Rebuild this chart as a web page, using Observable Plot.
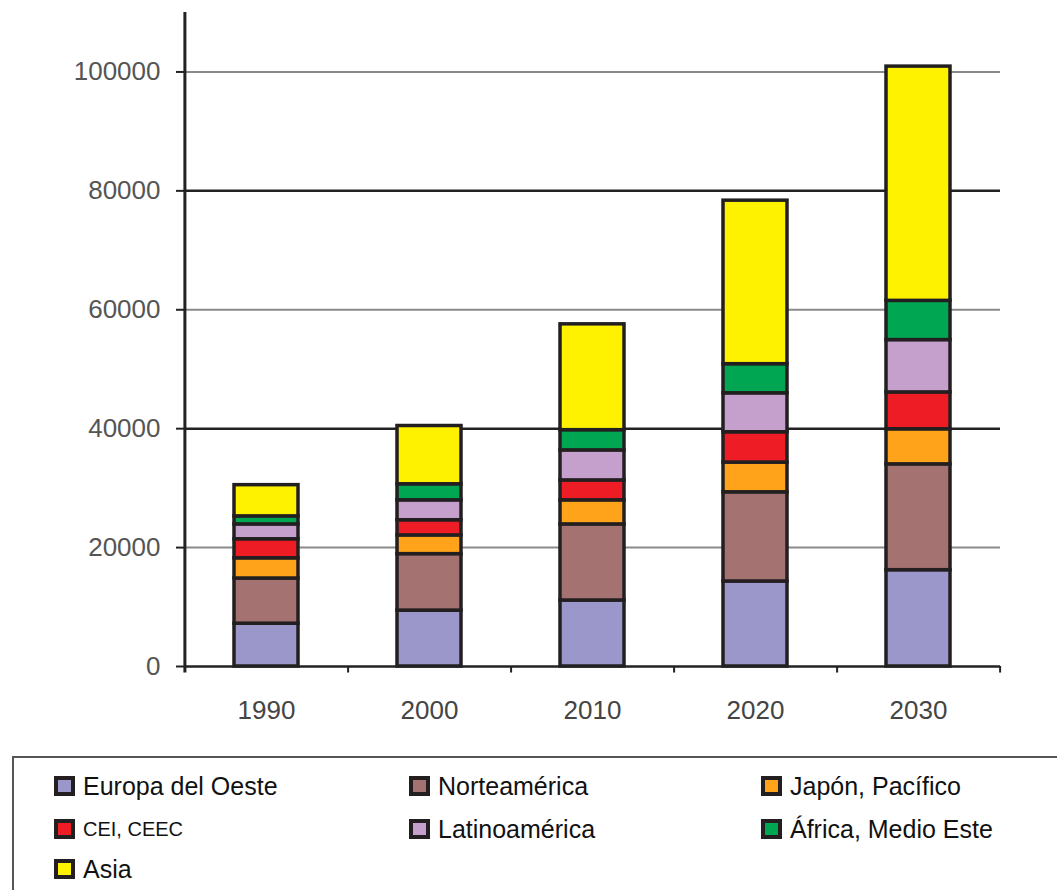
<!DOCTYPE html>
<html>
<head>
<meta charset="utf-8">
<script src="https://cdn.jsdelivr.net/npm/d3@7"></script>
<script src="https://cdn.jsdelivr.net/npm/@observablehq/plot@0.6"></script>
<style>
  html, body { margin: 0; padding: 0; background: #fff; }
  body { width: 1057px; height: 890px; overflow: hidden; font-family: "Liberation Sans", Arial, sans-serif; }
  #chart svg { display: block; }
  #legend {
    margin-left: 12px;
    margin-top: 6px;
    height: 140px;
    border-top: 2px solid #555;
    border-left: 2px solid #555;
    box-sizing: border-box;
    display: grid;
    grid-template-columns: 355px 352px 300px;
    grid-template-rows: 44px 42px 38px;
    padding-left: 40px;
    padding-top: 6px;
  }
  .item { display: flex; align-items: center; font-size: 25px; color: #111; }
  .sw { width: 21px; height: 20px; border: 4px solid #231f20; box-sizing: border-box; margin-right: 8px; flex: none; }
</style>
</head>
<body>
<div id="chart"></div>
<div id="legend"></div>
<script>
const years = ["1990", "2000", "2010", "2020", "2030"];
const regions = ["Europa del Oeste", "Norteamérica", "Japón, Pacífico", "CEI, CEEC", "Latinoamérica", "África, Medio Este", "Asia"];
const colors = ["#9b97cb", "#a57272", "#ffa31a", "#ee1c24", "#c6a0cc", "#00a651", "#fff200"];
const europa = [7200, 9400, 11100, 14300, 16200];
const norteamerica = [7600, 9500, 12800, 15000, 17800];
const japon = [3400, 3150, 4050, 5000, 5900];
const cei = [3200, 2550, 3350, 5100, 6200];
const latinoamerica = [2500, 3350, 5050, 6550, 8800];
const africa = [1350, 2700, 3400, 4900, 6600];
const asia = [5250, 9800, 17800, 27500, 39400];
const yTicks = [0, 20000, 40000, 60000, 80000, 100000];

const series = [europa, norteamerica, japon, cei, latinoamerica, africa, asia];
const data = [];
years.forEach((y, i) => {
  regions.forEach((r, j) => data.push({year: y, region: r, value: series[j][i]}));
});

const W = 1057, mL = 184, mR = 57;
const step = (W - mL - mR) / years.length;

const chart = Plot.plot({
  width: W,
  height: 750,
  marginLeft: mL,
  marginRight: mR,
  marginTop: 12,
  marginBottom: 84,
  style: {fontFamily: "'Liberation Sans', Arial, sans-serif", background: "#fff"},
  x: {domain: years, paddingInner: 0.608, paddingOuter: 0.304, label: null},
  y: {domain: [0, 110000], label: null},
  color: {domain: regions, range: colors},
  marks: [
    Plot.ruleY(yTicks.filter(d => d > 0), {
      stroke: d => (d === 40000 || d === 80000) ? "#222" : "#8a8a8a",
      strokeWidth: d => (d === 40000 || d === 80000) ? 2.5 : 2
    }),
    Plot.barY(data, Plot.stackY({
      x: "year", y: "value", fill: "region",
      stroke: "#231f20", strokeWidth: 3.5
    })),
    Plot.ruleY([0], {stroke: "#222", strokeWidth: 2.5}),
    Plot.ruleX(years, {x: d => d, dx: step / 2, y1: 0, y2: -1100, stroke: "#222", strokeWidth: 2}),
    Plot.axisY({
      ticks: yTicks, tickSize: 8, tickPadding: 16, tickFormat: d => String(d),
      fontSize: 26, fill: "#555", stroke: "#222", strokeWidth: 2
    }),
    Plot.ruleX([years[0]], {x: d => d, dx: -step / 2, y1: -1100, y2: 110000, stroke: "#222", strokeWidth: 3}),
    Plot.axisX({tickSize: 0, tickPadding: 34, fontSize: 26, fill: "#444"})
  ]
});
document.getElementById("chart").appendChild(chart);

const legend = document.getElementById("legend");
regions.forEach((r, j) => {
  const item = document.createElement("div");
  item.className = "item";
  if (r === "CEI, CEEC") item.style.fontSize = "20px";
  const sw = document.createElement("span");
  sw.className = "sw";
  sw.style.background = colors[j];
  item.appendChild(sw);
  item.appendChild(document.createTextNode(r));
  legend.appendChild(item);
});
</script>
</body>
</html>
